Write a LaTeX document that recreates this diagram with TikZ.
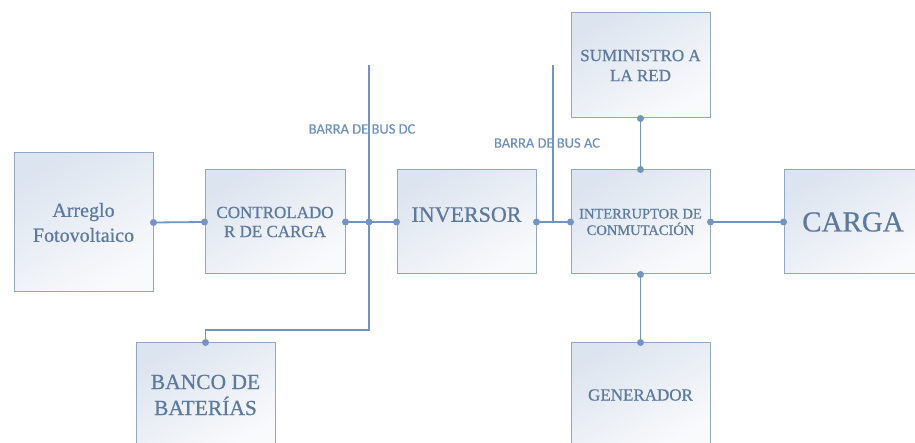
\documentclass[tikz,border=0pt]{standalone}
\usepackage{fontspec}
\setmainfont{Liberation Serif}[FakeBold=0.6]
\newfontfamily\busfont{Carlito}[FakeBold=0.4]
\definecolor{boxc}{HTML}{8FA8CA}
\definecolor{txtc}{HTML}{5C799E}
\definecolor{linec}{HTML}{7394C1}
\definecolor{labc}{HTML}{6F90BE}
\definecolor{shtop}{HTML}{DCE4EF}
\definecolor{shbot}{HTML}{F9FAFC}
\begin{document}
\begin{tikzpicture}[x=1pt,y=-1pt,
  blk/.style={draw=boxc, line width=1pt, top color=shtop, bottom color=shbot, shading angle=30,
    minimum width=139pt, minimum height=104pt, inner sep=0pt, text=txtc, align=center},
  conn/.style={draw=linec, line width=1.8pt},
  bus/.style={draw=linec, line width=1.1pt},
  dot/.style={circle, fill=linec, inner sep=0pt, minimum size=7pt},
  buslab/.style={text=labc, font=\busfont\fontsize{14.5}{16}\selectfont, inner sep=0pt}]
\useasboundingbox (0,0) rectangle (915,443);
\clip (0,0) rectangle (915,443);

\node[buslab] (dclab) at (362,129) {BARRA DE BUS DC};
\node[buslab] (aclab) at (547,143) {BARRA DE BUS AC};

\node[blk, minimum height=139pt, font=\fontsize{20}{25}\selectfont] (arr) at (83.5,222.5) {Arreglo\\Fotovoltaico};
\node[blk, minimum width=140pt, font=\fontsize{17}{19}\selectfont] (ctl) at (275,222) {CONTROLADO\\R DE CARGA};
\node[blk, font=\fontsize{22}{26}\selectfont, text depth=15pt] (inv) at (466.5,222) {INVERSOR};
\node[blk, font=\fontsize{14.5}{16.5}\selectfont] (intr) at (640.5,222) {INTERRUPTOR DE\\CONMUTACIÓN};
\node[blk, minimum height=105pt, font=\fontsize{17}{20}\selectfont] (sum) at (640.5,65.5) {SUMINISTRO A\\LA RED};
\node[blk, minimum width=138pt, font=\fontsize{29}{32}\selectfont] (car) at (853,222) {CARGA};
\node[blk, font=\fontsize{17}{20}\selectfont] (gen) at (640.5,395) {GENERADOR};
\node[blk, font=\fontsize{21.5}{26}\selectfont] (ban) at (205.5,395) {BANCO DE\\BATERÍAS};

\coordinate (dctop) at (369,65);
\coordinate (dcj) at (369,222);
\coordinate (dcbot) at (369,330);
\coordinate (actop) at (553,65);
\coordinate (acj) at (553,222);

\draw[bus] (dctop) -- (dcbot) -| (ban.north);
\draw[bus] (actop) -- (acj);

\draw[conn] (arr.east) -- (ctl.west);
\draw[conn] (ctl.east) -- (inv.west);
\draw[conn] (inv.east) -- (intr.west);
\draw[conn] (intr.east) -- (car.west);
\draw[conn] (sum.south) -- (intr.north);
\draw[conn] (intr.south) -- (gen.north);

\foreach \p in {arr.east, ctl.west, ctl.east, dcj, inv.west, inv.east, intr.west, intr.east, car.west, sum.south, intr.north, intr.south, gen.north, ban.north}
  \node[dot] at (\p) {};
\end{tikzpicture}
\end{document}
